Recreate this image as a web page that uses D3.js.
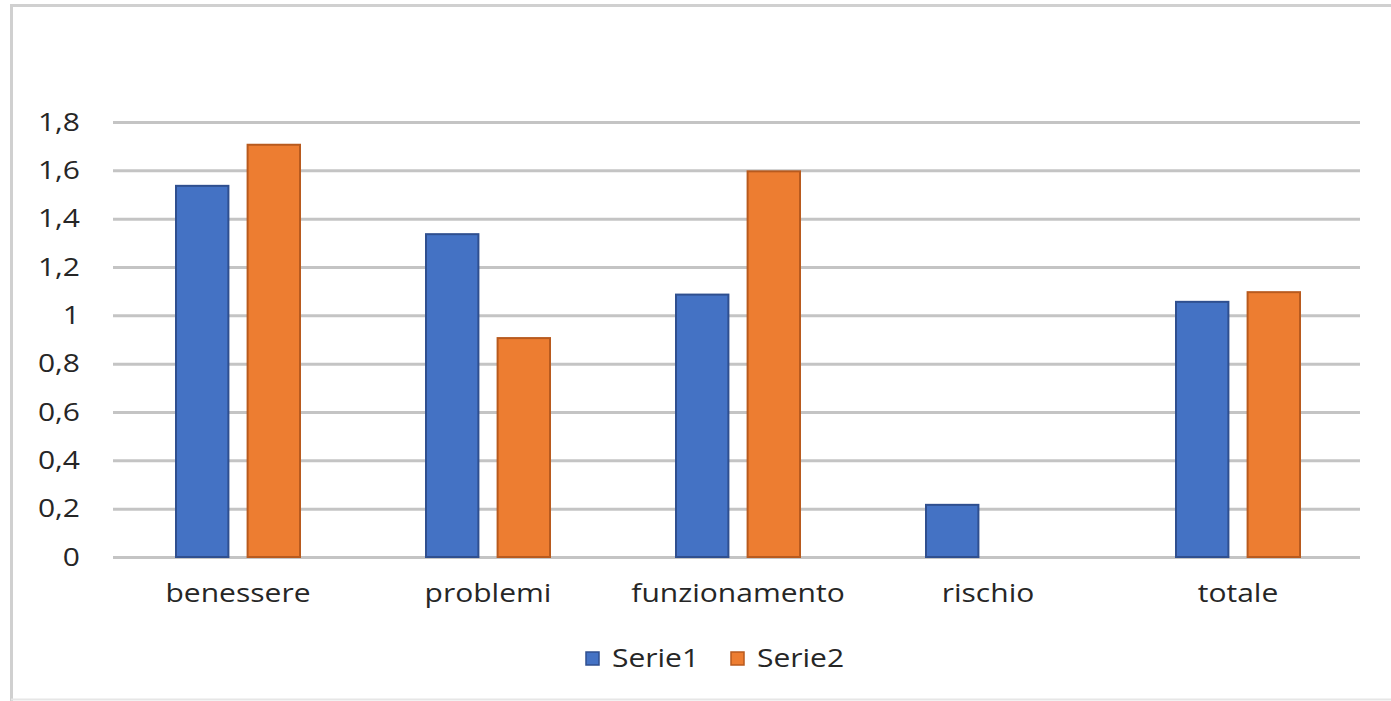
<!DOCTYPE html>
<html>
<head>
<meta charset="utf-8">
<script src="https://cdn.jsdelivr.net/npm/d3@7"></script>
<style>
  body { margin: 0; background: #fff; }
  text { font-family: "Open Sans", sans-serif; fill: #262626; }
</style>
</head>
<body>
<div class="svg-container"></div>
<script>
// chart values
const categories = ["benessere", "problemi", "funzionamento", "rischio", "totale"];
const serie1 = [1.54, 1.34, 1.09, 0.22, 1.06];
const serie2 = [1.71, 0.91, 1.6, 0, 1.1];
const seriesNames = ["Serie1", "Serie2"];
const yTicks = [0, 0.2, 0.4, 0.6, 0.8, 1, 1.2, 1.4, 1.6, 1.8];

const W = 1391;
const H = 701;
const margin = { top: 122, right: 28, bottom: 144, left: 113 };
const width = 1363 - margin.left;
const height = 557 - margin.top;

const colors = ["#4472C4", "#ED7D31"];
const strokes = ["#2F4F8F", "#B85A1E"];
const fontSize = 25;
const stretch = 1.2; // the reference text is a bit wide

const data = categories.map((c, i) => ({ cat: c, vals: [serie1[i], serie2[i]] }));

const svg = d3
  .select(".svg-container")
  .append("svg")
  .attr("width", W)
  .attr("height", H);

// outer frame (left, top, bottom)
svg.append("path")
  .attr("d", `M11.5,${H} L11.5,5.5 L${W},5.5`)
  .attr("fill", "none")
  .attr("stroke", "#d0d0d0")
  .attr("stroke-width", 3);
svg.append("line")
  .attr("x1", 11).attr("x2", W)
  .attr("y1", 699.5).attr("y2", 699.5)
  .attr("stroke", "#e6e6e6")
  .attr("stroke-width", 2);

const g = svg.append("g").attr("transform", `translate(${margin.left},${margin.top})`);

const x0 = d3.scaleBand().domain(categories).range([0, width]).paddingInner(0).paddingOuter(0);
const x1 = d3.scaleBand().domain([0, 1]).range([62, 188]).paddingInner(0.24);
const y = d3.scaleLinear().domain([0, 1.8]).range([height, 0]);

// grid
g.append("g")
  .attr("class", "grid")
  .call(d3.axisLeft(y).tickValues(yTicks).tickSize(-1247).tickFormat(""))
  .call((s) => s.select(".domain").remove())
  .call((s) => s.selectAll("line").attr("stroke", "#c4c4c4").attr("stroke-width", 3));

// y axis labels
g.append("g")
  .attr("class", "y-axis")
  .call(d3.axisLeft(y).tickValues(yTicks).tickSize(0)
    .tickFormat((d) => d3.format("~r")(d).replace(".", ",")))
  .call((s) => s.select(".domain").remove())
  .call((s) => s.selectAll("text")
    .attr("font-size", fontSize)
    .attr("fill", "#262626")
    .attr("x", -33 / stretch)
    .attr("transform", `scale(${stretch},1)`));

// bars
const groups = g.selectAll(".cat")
  .data(data)
  .enter()
  .append("g")
  .attr("transform", (d) => `translate(${x0(d.cat)},0)`);

groups.selectAll("rect")
  .data((d) => d.vals.map((v, i) => ({ v, i })).filter((e) => e.v > 0))
  .enter()
  .append("rect")
  .attr("x", (d) => x1(d.i) + 1)
  .attr("y", (d) => y(d.v) + 1)
  .attr("width", x1.bandwidth() - 2)
  .attr("height", (d) => height - y(d.v) - 1)
  .attr("fill", (d) => colors[d.i])
  .attr("stroke", (d) => strokes[d.i])
  .attr("stroke-width", 2);

// x axis labels
g.append("g")
  .attr("class", "x-axis")
  .attr("transform", `translate(0,${height})`)
  .call(d3.axisBottom(x0).tickSize(0).tickPadding(27))
  .call((s) => s.select(".domain").remove())
  .call((s) => s.selectAll("text")
    .attr("font-size", fontSize)
    .attr("fill", "#262626")
    .attr("transform", `scale(${stretch},1)`));

// legend
const legend = svg.append("g").attr("transform", "translate(585,658)");
const items = legend.selectAll("g")
  .data(seriesNames)
  .enter()
  .append("g")
  .attr("transform", (d, i) => `translate(${i * 145},0)`);
items.append("rect")
  .attr("x", 1).attr("y", -6)
  .attr("width", 13).attr("height", 13)
  .attr("fill", (d, i) => colors[i])
  .attr("stroke", (d, i) => strokes[i])
  .attr("stroke-width", 1.5);
items.append("text")
  .attr("x", 27 / stretch)
  .attr("y", 9)
  .attr("font-size", fontSize)
  .attr("transform", `scale(${stretch},1)`)
  .text((d) => d);
</script>
</body>
</html>
